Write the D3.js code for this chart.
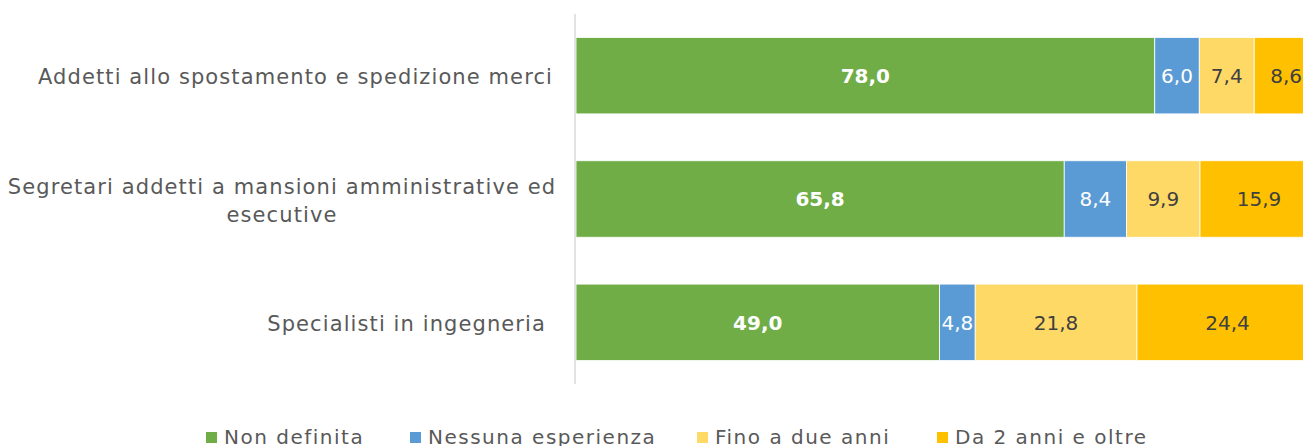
<!DOCTYPE html>
<html>
<head>
<meta charset="utf-8">
<script src="https://cdn.jsdelivr.net/npm/d3@7"></script>
<style>
  body { margin: 0; background: #fff; overflow: hidden; }
  text { font-family: "DejaVu Sans", sans-serif; }
</style>
</head>
<body>
<div id="chart"></div>
<script>
// categories (top to bottom), each may wrap onto several lines
const categories = [
  "Addetti allo spostamento e spedizione merci",
  "Segretari addetti a mansioni amministrative ed esecutive",
  "Specialisti in ingegneria"
];
const categoryLines = [
  ["Addetti allo spostamento e spedizione merci"],
  ["Segretari addetti a mansioni amministrative ed", "esecutive"],
  ["Specialisti in ingegneria"]
];

const seriesNames = ["Non definita", "Nessuna esperienza", "Fino a due anni", "Da 2 anni e oltre"];
const nonDefinita = [78.0, 65.8, 49.0];
const nessunaEsperienza = [6.0, 8.4, 4.8];
const finoADueAnni = [7.4, 9.9, 21.8];
const da2AnniEOltre = [8.6, 15.9, 24.4];

const colors = ["#70AD47", "#5B9BD5", "#FFD966", "#FFC000"];
const labelColors = ["#ffffff", "#ffffff", "#404040", "#404040"];

const width = 1303, height = 446;

var svg = d3.select("#chart").append("svg")
  .attr("width", width)
  .attr("height", height);

// build rows for the stack
var rows = categories.map(function (c, i) {
  return {
    cat: c,
    "Non definita": nonDefinita[i],
    "Nessuna esperienza": nessunaEsperienza[i],
    "Fino a due anni": finoADueAnni[i],
    "Da 2 anni e oltre": da2AnniEOltre[i]
  };
});
var stacked = d3.stack().keys(seriesNames)(rows);

var x = d3.scaleLinear().domain([0, 100]).range([576, 1318]);
var y = d3.scaleBand().domain(categories).range([14, 384])
  .paddingInner(0.38).paddingOuter(0.19);

var fmt = function (v) { return d3.format(".1f")(v).replace(".", ","); };

var layers = svg.selectAll(".layer")
  .data(stacked)
  .enter().append("g")
  .attr("class", "layer");

layers.selectAll("rect")
  .data(function (d) { return d; })
  .enter().append("rect")
  .attr("x", function (d) { return x(d[0]); })
  .attr("y", function (d) { return y(d.data.cat); })
  .attr("width", function (d) { return x(d[1]) - x(d[0]); })
  .attr("height", y.bandwidth())
  .attr("fill", function (d, i, n) { return colors[d3.select(n[i].parentNode).datum().index]; })
  .attr("stroke", "#ffffff")
  .attr("stroke-width", 0.8);

// value labels
layers.each(function (s) {
  d3.select(this).selectAll("text")
    .data(s)
    .enter().append("text")
    .attr("x", function (d) { return (x(d[0]) + x(d[1])) / 2; })
    .attr("y", function (d) { return y(d.data.cat) + y.bandwidth() / 2; })
    .attr("dy", "0.36em")
    .attr("text-anchor", "middle")
    .style("font-size", "20px")
    .style("font-weight", s.index === 0 ? "bold" : "normal")
    .style("fill", labelColors[s.index])
    .text(function (d) { return fmt(d[1] - d[0]); });
});

// vertical axis line
svg.append("line")
  .attr("x1", 575).attr("x2", 575)
  .attr("y1", 14).attr("y2", 384)
  .attr("stroke", "#D9D9D9")
  .attr("stroke-width", 1.5);

// category labels
var catG = svg.selectAll(".cat")
  .data(categories)
  .enter().append("text")
  .attr("class", "cat")
  .style("font-size", "21px")
  .style("letter-spacing", "1.1px")
  .style("fill", "#595959");

catG.each(function (c, i) {
  var lines = categoryLines[i];
  var cy = y(c) + y.bandwidth() / 2 + 1;
  var lh = 28;
  var t = d3.select(this);
  if (lines.length === 1) {
    t.attr("text-anchor", "end")
      .attr("x", i === 2 ? 546 : 553)
      .attr("y", cy).attr("dy", "0.36em")
      .text(lines[0]);
  } else {
    t.attr("text-anchor", "middle");
    lines.forEach(function (l, j) {
      t.append("tspan")
        .attr("x", 282)
        .attr("y", cy + (j - (lines.length - 1) / 2) * lh)
        .attr("dy", "0.36em")
        .text(l);
    });
  }
});

// legend
var legendX = [206, 410, 697, 937];
var legend = svg.selectAll(".legend")
  .data(seriesNames)
  .enter().append("g")
  .attr("class", "legend")
  .attr("transform", function (d, i) { return "translate(" + legendX[i] + ",444)"; });

legend.append("rect")
  .attr("x", 0).attr("y", -12)
  .attr("width", 11).attr("height", 11)
  .attr("fill", function (d, i) { return colors[i]; });

legend.append("text")
  .attr("x", 18).attr("y", 0)
  .style("font-size", "20px")
  .style("letter-spacing", "1.5px")
  .style("fill", "#595959")
  .text(function (d) { return d; });
</script>
</body>
</html>
